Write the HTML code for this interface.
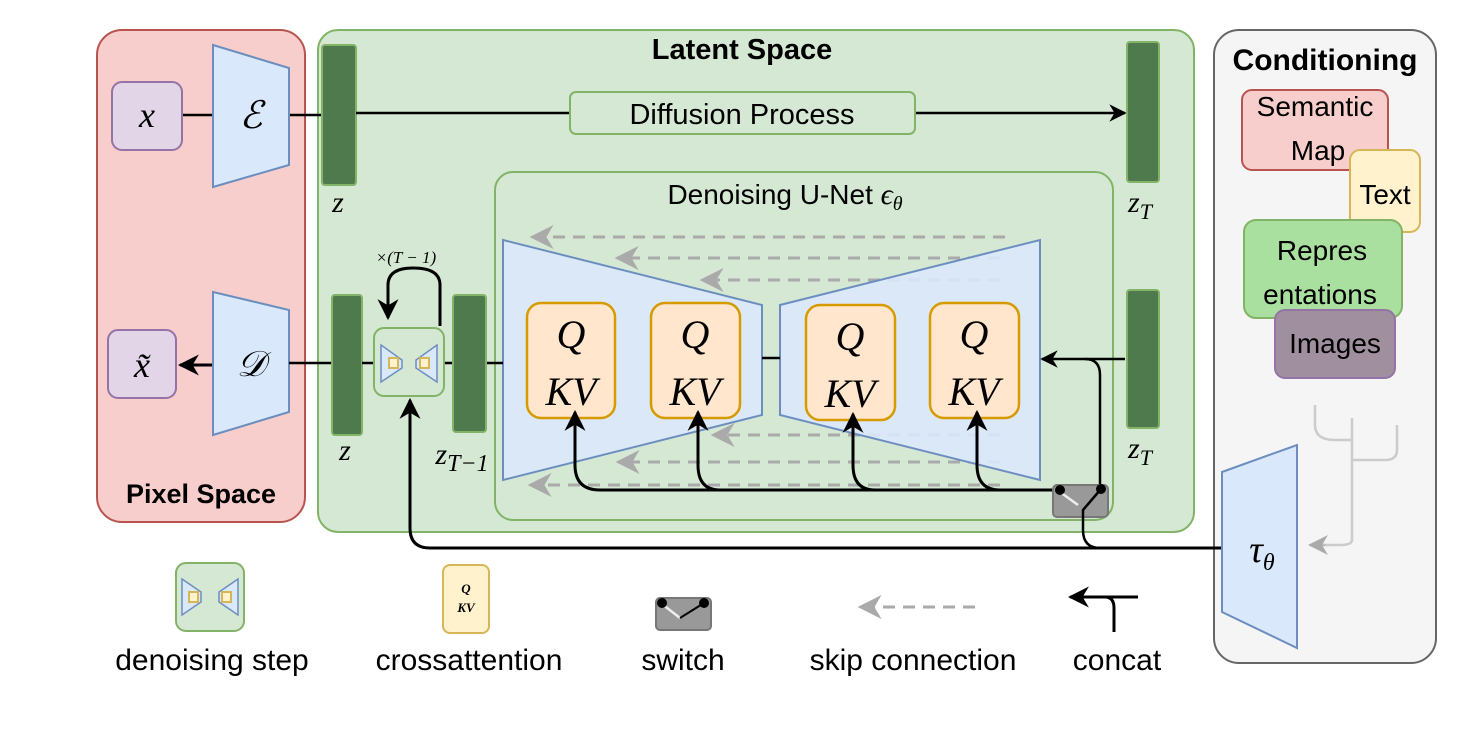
<!DOCTYPE html>
<html><head><meta charset="utf-8"><style>
html,body{margin:0;padding:0;background:#fff;}
svg{display:block;}
text{font-family:"Liberation Sans",sans-serif;}
.m,.m text,tspan.m{font-family:"Liberation Serif",serif;font-style:italic;}
</style></head><body>
<svg width="1479" height="736" viewBox="0 0 1479 736" xmlns="http://www.w3.org/2000/svg">
<defs>
<marker id="ah" viewBox="0 0 10 10" refX="9" refY="5" markerWidth="7" markerHeight="7" orient="auto-start-reverse"><path d="M0,0 L10,5 L0,10 L3,5 Z" fill="#000"/></marker>
<marker id="gh" viewBox="0 0 10 10" refX="9" refY="5" markerWidth="8" markerHeight="8" orient="auto-start-reverse"><path d="M0,0 L10,5 L0,10 L3,5 Z" fill="#aaa"/></marker>
</defs>
<rect width="1479" height="736" fill="#fff"/>
<rect x="97" y="30" width="208" height="492" rx="25" fill="#f8cecc" stroke="#b85450" stroke-width="2"/>
<text x="201" y="503" font-size="27" font-weight="bold" text-anchor="middle">Pixel Space</text>
<rect x="318" y="30" width="876" height="502" rx="20" fill="#d5e8d4" stroke="#82b366" stroke-width="2"/>
<text x="742" y="59" font-size="29" font-weight="bold" text-anchor="middle">Latent Space</text>
<rect x="1214" y="30" width="222" height="633" rx="25" fill="#f5f5f5" stroke="#666" stroke-width="2"/>
<text x="1325" y="70" font-size="30" font-weight="bold" text-anchor="middle">Conditioning</text>

<line x1="182" y1="115" x2="213" y2="115" stroke="#000" stroke-width="2.5"/>
<line x1="289" y1="115" x2="322" y2="115" stroke="#000" stroke-width="2.5"/>
<rect x="112" y="82" width="70" height="68" rx="10" fill="#e1d5e7" stroke="#9673a6" stroke-width="2"/>
<text x="147" y="127" font-size="36" class="m" text-anchor="middle">x</text>
<path d="M213,45 L289,68 L289,165 L213,187 Z" fill="#dae8fc" stroke="#6c8ebf" stroke-width="2"/>
<text x="251" y="128" font-size="38" class="m" text-anchor="middle">ℰ</text>
<rect x="322" y="45" width="34" height="140" rx="3" fill="#4e7a4e" stroke="#82b366" stroke-width="2"/>
<text x="338" y="212" font-size="30" class="m" text-anchor="middle">z</text>
<line x1="356" y1="113" x2="570" y2="113" stroke="#000" stroke-width="2.5"/>
<line x1="915" y1="113" x2="1125" y2="113" stroke="#000" stroke-width="2.5" marker-end="url(#ah)"/>
<rect x="570" y="92" width="345" height="42" rx="6" fill="#d5e8d4" stroke="#82b366" stroke-width="2"/>
<text x="742" y="124" font-size="29" text-anchor="middle">Diffusion Process</text>
<rect x="1127" y="42" width="32" height="140" rx="3" fill="#4e7a4e" stroke="#82b366" stroke-width="2"/>
<text x="1140" y="212" font-size="30" class="m" text-anchor="middle">z<tspan font-size="22" dy="7">T</tspan></text>

<rect x="495" y="172" width="618" height="348" rx="18" fill="#d5e8d4" stroke="#82b366" stroke-width="2"/>
<text x="785" y="204" font-size="28" text-anchor="middle">Denoising U-Net <tspan class="m" font-size="30">ϵ</tspan><tspan class="m" font-size="20" dy="6">θ</tspan></text>

<g stroke="#aaa" stroke-width="3" stroke-dasharray="12,8" fill="none">
<line x1="1005" y1="237" x2="532" y2="237" marker-end="url(#gh)"/>
<line x1="1000" y1="258" x2="617" y2="258" marker-end="url(#gh)"/>
<line x1="1000" y1="280" x2="702" y2="280" marker-end="url(#gh)"/>
<line x1="1000" y1="435" x2="713" y2="435" marker-end="url(#gh)"/>
<line x1="1000" y1="462" x2="618" y2="462" marker-end="url(#gh)"/>
<line x1="1000" y1="485" x2="530" y2="485" marker-end="url(#gh)"/>
</g>
<path d="M503,240 L762,305 L762,415 L503,480 Z" fill="#dae8fc" fill-opacity="0.9" stroke="#6c8ebf" stroke-width="2"/>
<path d="M780,305 L1040,240 L1040,480 L780,415 Z" fill="#dae8fc" fill-opacity="0.9" stroke="#6c8ebf" stroke-width="2"/>
<line x1="762" y1="358" x2="780" y2="358" stroke="#000" stroke-width="2.5"/>
<g fill="#ffe6cc" stroke="#d79b00" stroke-width="2.5">
<rect x="527" y="303" width="88" height="115" rx="14"/>
<rect x="651" y="303" width="89" height="115" rx="14"/>
<rect x="806" y="305" width="89" height="115" rx="14"/>
<rect x="930" y="303" width="89" height="115" rx="14"/>
</g>
<g class="m" font-size="40" text-anchor="middle">
<text x="571" y="348">Q</text><text x="571" y="405">KV</text>
<text x="695" y="348">Q</text><text x="695" y="405">KV</text>
<text x="850" y="350">Q</text><text x="850" y="407">KV</text>
<text x="974" y="348">Q</text><text x="974" y="405">KV</text>
</g>
<g stroke="#000" stroke-width="3" fill="none">
<path d="M1060,490 L600,490 Q575,490 575,465 L575,412" marker-end="url(#ah)"/>
<path d="M720,490 Q698,490 698,465 L698,412" marker-end="url(#ah)"/>
<path d="M875,490 Q853,490 853,465 L853,414" marker-end="url(#ah)"/>
<path d="M1000,490 Q977,490 977,465 L977,412" marker-end="url(#ah)"/>
</g>
<rect x="1127" y="290" width="32" height="138" rx="3" fill="#4e7a4e" stroke="#82b366" stroke-width="2"/>
<text x="1140" y="458" font-size="30" class="m" text-anchor="middle">z<tspan font-size="22" dy="7">T</tspan></text>
<line x1="1125" y1="359" x2="1042" y2="359" stroke="#000" stroke-width="2.5" marker-end="url(#ah)"/>
<path d="M1100,490 L1100,375 Q1100,359 1085,359" stroke="#000" stroke-width="2.5" fill="none"/>
<rect x="1053" y="485" width="55" height="32" rx="4" fill="#999" stroke="#777" stroke-width="2"/>
<line x1="1060" y1="492" x2="1078" y2="505" stroke="#eee" stroke-width="2.5"/>
<circle cx="1060" cy="490" r="5"/><circle cx="1101" cy="489" r="5"/>
<path d="M1101,489 L1083,510 L1083,530 Q1083,548 1100,548" stroke="#000" stroke-width="2.5" fill="none"/>
<path d="M1222,548 L430,548 Q410,548 410,528 L410,400" stroke="#000" stroke-width="3" fill="none" marker-end="url(#ah)"/>

<rect x="108" y="330" width="68" height="68" rx="10" fill="#e1d5e7" stroke="#9673a6" stroke-width="2"/>
<text x="142" y="377" font-size="36" class="m" text-anchor="middle">x̃</text>
<line x1="213" y1="365" x2="180" y2="365" stroke="#000" stroke-width="3" marker-end="url(#ah)"/>
<path d="M213,292 L289,310 L289,412 L213,435 Z" fill="#dae8fc" stroke="#6c8ebf" stroke-width="2"/>
<text x="251" y="376" font-size="36" class="m" text-anchor="middle">𝒟</text>
<line x1="289" y1="363" x2="332" y2="363" stroke="#000" stroke-width="2.5"/>
<rect x="332" y="295" width="30" height="140" rx="3" fill="#4e7a4e" stroke="#82b366" stroke-width="2"/>
<text x="345" y="460" font-size="30" class="m" text-anchor="middle">z</text>
<line x1="362" y1="363" x2="453" y2="363" stroke="#000" stroke-width="2.5"/>
<line x1="486" y1="363" x2="503" y2="363" stroke="#000" stroke-width="2.5"/>
<rect x="374" y="328" width="70" height="68" rx="10" fill="#d5e8d4" stroke="#82b366" stroke-width="2"/>
<path d="M381,345 L402,360 L402,368 L381,382 Z" fill="#dae8fc" stroke="#6c8ebf" stroke-width="1.5"/>
<path d="M437,345 L416,360 L416,368 L437,382 Z" fill="#dae8fc" stroke="#6c8ebf" stroke-width="1.5"/>
<rect x="389" y="358" width="9" height="10" fill="#fff2cc" stroke="#d6b656" stroke-width="2"/>
<rect x="420" y="358" width="9" height="10" fill="#fff2cc" stroke="#d6b656" stroke-width="2"/>
<path d="M440,326 L440,285 Q440,268 413,268 Q388,268 388,285 L388,318" stroke="#000" stroke-width="3" fill="none" marker-end="url(#ah)"/>
<text x="406" y="263" font-size="17" class="m" text-anchor="middle">×(T − 1)</text>
<rect x="453" y="295" width="33" height="137" rx="3" fill="#4e7a4e" stroke="#82b366" stroke-width="2"/>
<text x="462" y="464" font-size="30" class="m" text-anchor="middle">z<tspan font-size="24" dy="7">T−1</tspan></text>

<rect x="1242" y="90" width="146" height="80" rx="10" fill="#f8cecc" stroke="#b85450" stroke-width="2"/>
<text x="1315" y="116" font-size="28" text-anchor="middle">Semantic</text>
<text x="1318" y="160" font-size="28" text-anchor="middle">Map</text>
<rect x="1350" y="150" width="70" height="82" rx="10" fill="#fff2cc" stroke="#d6b656" stroke-width="2"/>
<text x="1385" y="204" font-size="28" text-anchor="middle">Text</text>
<rect x="1244" y="220" width="158" height="98" rx="12" fill="#a9e0a0" stroke="#82b366" stroke-width="2"/>
<text x="1322" y="260" font-size="28" text-anchor="middle">Repres</text>
<text x="1320" y="304" font-size="28" text-anchor="middle">entations</text>
<rect x="1275" y="310" width="120" height="68" rx="10" fill="#a0909f" stroke="#9673a6" stroke-width="2"/>
<text x="1335" y="353" font-size="28" text-anchor="middle">Images</text>
<path d="M1315,405 L1315,425 Q1315,440 1335,440 L1352,440 M1352,418 L1352,540 Q1352,545 1340,545 L1310,545 M1397,425 L1397,450 Q1397,460 1385,460 L1352,460 Q1352,470 1352,480" stroke="#ccc" stroke-width="2.5" fill="none"/>
<path d="M1325,545 L1310,545" stroke="#bbb" stroke-width="2.5" marker-end="url(#gh)"/>
<path d="M1222,472 L1297,445 L1297,648 L1222,612 Z" fill="#dae8fc" stroke="#6c8ebf" stroke-width="2"/>
<text x="1262" y="562" font-size="38" class="m" text-anchor="middle">τ<tspan font-size="24" dy="8">θ</tspan></text>

<rect x="176" y="563" width="68" height="68" rx="10" fill="#d5e8d4" stroke="#82b366" stroke-width="2"/>
<path d="M182,579 L201,592 L201,602 L182,615 Z" fill="#dae8fc" stroke="#6c8ebf" stroke-width="1.5"/>
<path d="M238,579 L219,592 L219,602 L238,615 Z" fill="#dae8fc" stroke="#6c8ebf" stroke-width="1.5"/>
<rect x="189" y="592" width="9" height="10" fill="#fff2cc" stroke="#d6b656" stroke-width="2"/>
<rect x="222" y="592" width="9" height="10" fill="#fff2cc" stroke="#d6b656" stroke-width="2"/>
<text x="212" y="670" font-size="30" text-anchor="middle">denoising step</text>
<rect x="443" y="565" width="46" height="68" rx="7" fill="#fff2cc" stroke="#d6b656" stroke-width="2"/>
<text x="466" y="593" font-size="13" class="m" font-weight="bold" text-anchor="middle">Q</text>
<text x="466" y="612" font-size="13" class="m" font-weight="bold" text-anchor="middle">KV</text>
<text x="469" y="670" font-size="30" text-anchor="middle">crossattention</text>
<rect x="656" y="598" width="55" height="32" rx="4" fill="#999" stroke="#777" stroke-width="2"/>
<line x1="662" y1="604" x2="680" y2="618" stroke="#eee" stroke-width="2.5"/>
<line x1="680" y1="618" x2="704" y2="603" stroke="#000" stroke-width="2"/>
<circle cx="662" cy="603" r="5"/><circle cx="704" cy="603" r="5"/>
<text x="683" y="670" font-size="30" text-anchor="middle">switch</text>
<line x1="975" y1="607" x2="860" y2="607" stroke="#aaa" stroke-width="3" stroke-dasharray="12,8" marker-end="url(#gh)"/>
<text x="913" y="670" font-size="30" text-anchor="middle">skip connection</text>
<path d="M1114,632 L1114,608 Q1114,597 1105,597 L1138,597 M1105,597 L1070,597" stroke="#000" stroke-width="3" fill="none" marker-end="url(#ah)"/>
<text x="1117" y="670" font-size="30" text-anchor="middle">concat</text>
</svg>
</body></html>
